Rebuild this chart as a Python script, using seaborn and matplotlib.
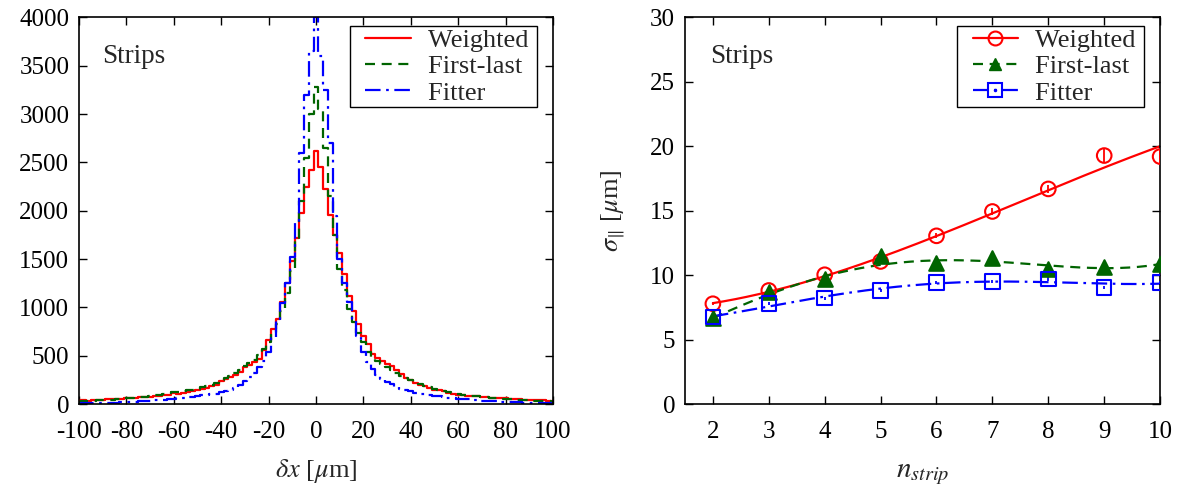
import numpy as np
import pandas as pd
import matplotlib
matplotlib.use("Agg")
import matplotlib.pyplot as plt
import seaborn as sns
from matplotlib.lines import Line2D
from matplotlib.legend_handler import HandlerTuple, HandlerLine2D

# ---------------- data ----------------
series_names = ["Weighted", "First-last", "Fitter"]

# left panel: residual histogram, 2 um bins centred at -100 ... 100
dx_centers = list(range(-100, 101, 2))
counts_weighted = [
    42, 38, 35, 40, 44, 41, 47, 50, 48, 55,
    60, 58, 64, 70, 68, 75, 80, 86, 92, 98,
    110, 108, 118, 126, 135, 142, 155, 170, 182, 200,
    240, 255, 275, 300, 335, 385, 405, 430, 470, 560,
    660, 780, 880, 1060, 1250, 1480, 1720, 1980, 2250, 2420,
    2620,
    2450, 2220, 1960, 1750, 1560, 1350, 1120, 960, 830, 700,
    620, 520, 480, 440, 410, 390, 350, 310, 270, 245,
    220, 200, 185, 170, 150, 140, 130, 118, 105, 95,
    92, 85, 82, 78, 72, 70, 66, 62, 60, 58,
    55, 52, 50, 46, 45, 42, 40, 38, 36, 35,
]
counts_firstlast = [
    25, 30, 33, 30, 38, 40, 44, 42, 50, 56,
    62, 60, 68, 75, 72, 82, 90, 95, 102, 110,
    120, 125, 130, 140, 150, 160, 172, 185, 200, 220,
    250, 265, 290, 320, 350, 395, 420, 460, 510, 570,
    640, 720, 830, 960, 1150, 1380, 1700, 2100, 2550, 3000,
    3280,
    3050, 2650, 2150, 1750, 1400, 1180, 980, 850, 730, 640,
    540, 480, 440, 410, 380, 350, 320, 290, 265, 250,
    225, 205, 190, 175, 160, 145, 135, 125, 115, 105,
    95, 90, 84, 78, 74, 70, 66, 62, 58, 55,
    52, 48, 45, 42, 40, 36, 33, 30, 28, 25,
]
counts_fitter = [
    5, 6, 8, 7, 9, 10, 12, 14, 15, 18,
    20, 22, 25, 28, 30, 34, 38, 42, 46, 50,
    55, 60, 64, 70, 75, 80, 88, 95, 100, 108,
    120, 135, 150, 170, 195, 240, 275, 320, 380, 440,
    540, 680, 870, 1040, 1250, 1520, 1870, 2600, 3200, 3650,
    4000,
    3600, 3250, 2700, 1950, 1500, 1250, 1060, 880, 700, 540,
    430, 360, 300, 260, 230, 205, 180, 160, 145, 130,
    118, 108, 100, 92, 85, 78, 72, 66, 60, 56,
    52, 48, 44, 40, 36, 33, 30, 27, 24, 22,
    20, 18, 16, 14, 12, 10, 9, 8, 6, 5,
]

# right panel: resolution vs strip multiplicity (points with error bars)
n_strip = [2, 3, 4, 5, 6, 7, 8, 9, 10]
sigma_weighted = [7.78, 8.81, 10.03, 11.06, 13.05, 14.94, 16.69, 19.28, 19.20]
sigma_firstlast = [6.65, 8.70, 9.70, 11.45, 10.98, 11.30, 10.50, 10.65, 10.85]
sigma_fitter = [6.75, 7.80, 8.22, 8.81, 9.43, 9.49, 9.70, 9.05, 9.43]
err_weighted = [0.10, 0.12, 0.12, 0.15, 0.20, 0.25, 0.30, 0.60, 0.60]
err_firstlast = [0.10, 0.15, 0.12, 0.25, 0.20, 0.25, 0.25, 0.25, 0.25]
err_fitter = [0.10, 0.12, 0.12, 0.12, 0.12, 0.12, 0.12, 0.12, 0.12]
fit_orders = [3, 4, 4]

x_ticks_left = list(range(-100, 101, 20))
y_ticks_left = list(range(0, 4001, 500))
x_ticks_right = list(range(2, 11))
y_ticks_right = list(range(0, 31, 5))

# ---------------- style ----------------
sns.set_theme(style="ticks")
plt.rcParams['font.family'] = ['Liberation Serif', 'DejaVu Serif']
plt.rcParams['mathtext.fontset'] = 'stix'
plt.rcParams['axes.unicode_minus'] = False

RED = '#ff0000'
GREEN = '#006400'
BLUE = '#0000ff'
FS = 18
LFS = 19
LS_SOLID = '-'
LS_DASH = (0, (4.5, 3.0))
LS_DASHDOT = (0, (7.0, 2.5, 1.2, 2.5))


class InsetLineHandler(HandlerLine2D):
    """Legend line handler that leaves a blank margin on the left."""
    def __init__(self, inset_px=13, **kw):
        super().__init__(**kw)
        self.inset_px = inset_px

    def create_artists(self, legend, orig_handle, xdescent, ydescent,
                       width, height, fontsize, trans):
        ins = self.inset_px * 72.0 / legend.figure.dpi
        return super().create_artists(legend, orig_handle, xdescent - ins,
                                      ydescent, width - ins, height,
                                      fontsize, trans)


fig = plt.figure(figsize=(11.85, 4.9), dpi=100)
ax1 = fig.add_axes([0.0667, 0.1755, 0.400, 0.789])
ax2 = fig.add_axes([0.578, 0.1755, 0.401, 0.789])

# ---------------- left panel ----------------
hist_sets = [
    (counts_weighted, RED, LS_SOLID),
    (counts_firstlast, GREEN, LS_DASH),
    (counts_fitter, BLUE, LS_DASHDOT),
]
for vals, col, ls in hist_sets:
    df = pd.DataFrame({"dx": dx_centers, "n": vals})
    sns.lineplot(data=df, x="dx", y="n", ax=ax1, color=col, lw=1.6,
                 linestyle=ls, drawstyle='steps-mid', legend=False)

ax1.set_xlim(-100, 100)
ax1.set_ylim(0, 4000)
ax1.set_xticks(x_ticks_left)
ax1.set_yticks(y_ticks_left)
ax1.set_xlabel(r'$\delta x$ [$\mu$m]', fontsize=FS + 1, labelpad=10)
ax1.set_ylabel('')
ax1.text(0.049, 0.90, 'Strips', transform=ax1.transAxes, fontsize=19.5,
         va='center', ha='left')

leg_labels = [n + ' ' for n in series_names]
hmap = {Line2D: InsetLineHandler(inset_px=13),
        tuple: HandlerTuple(ndivide=1)}
leg_kw = dict(loc='upper right', bbox_to_anchor=(0.966, 0.977),
              borderaxespad=0, fontsize=LFS, frameon=True, fancybox=False,
              framealpha=1, edgecolor='black', handlelength=2.2,
              handletextpad=0.65, labelspacing=0.11, borderpad=0.08,
              numpoints=1, handler_map=hmap)

h_left = [Line2D([], [], color=c, lw=1.6, linestyle=l) for _, c, l in hist_sets]
leg1 = ax1.legend(h_left, leg_labels, **leg_kw)
leg1.get_frame().set_linewidth(1.0)

# ---------------- right panel ----------------
pt_sets = [
    (sigma_weighted, err_weighted, RED, LS_SOLID, 'o', 'none'),
    (sigma_firstlast, err_firstlast, GREEN, LS_DASH, '^', GREEN),
    (sigma_fitter, err_fitter, BLUE, LS_DASHDOT, 's', 'none'),
]
n_fine = np.linspace(min(n_strip), max(n_strip), 200)
for (vals, errs, col, ls, mk, fc), order in zip(pt_sets, fit_orders):
    coef = np.polyfit(n_strip, vals, order, w=1.0 / np.asarray(errs))
    sns.lineplot(x=n_fine, y=np.polyval(coef, n_fine), ax=ax2, color=col,
                 lw=1.6, linestyle=ls, legend=False)
    ax2.errorbar(n_strip, vals, yerr=errs, fmt='none', ecolor=col,
                 elinewidth=1.3, capsize=0, zorder=4)
    sns.scatterplot(x=n_strip, y=vals, ax=ax2, marker=mk, s=110,
                    color=fc, edgecolor=col, linewidth=1.5, legend=False,
                    zorder=5)

ax2.set_xlim(1.5, 10)
ax2.set_ylim(0, 30)
ax2.set_xticks(x_ticks_right)
ax2.set_yticks(y_ticks_right)
ax2.set_xlabel(r'$n_{strip}$', fontsize=FS + 3, labelpad=13)
ax2.set_ylabel(r'$\sigma_{\|}$ [$\mu$m]', fontsize=FS + 1, labelpad=16)
ax2.text(0.053, 0.90, 'Strips', transform=ax2.transAxes, fontsize=19.5,
         va='center', ha='left')

h_w = Line2D([], [], color=RED, lw=1.6, linestyle=LS_SOLID, marker='o',
             ms=10, mfc='none', mec=RED, mew=1.5)
h_f = Line2D([], [], color=GREEN, lw=1.6, linestyle=LS_DASH, marker='^',
             ms=9, mfc=GREEN, mec=GREEN)
h_b = Line2D([], [], color=BLUE, lw=1.6, linestyle=LS_DASHDOT, marker='s',
             ms=10, mfc='none', mec=BLUE, mew=1.5)
h_dot = Line2D([], [], color=BLUE, linestyle='none', marker='.', ms=3)
leg2 = ax2.legend([h_w, h_f, (h_b, h_dot)], leg_labels, **leg_kw)
leg2.get_frame().set_linewidth(1.0)

for ax in (ax1, ax2):
    ax.tick_params(direction='in', length=6, width=1.0, top=True, right=True,
                   labelsize=FS, colors='black')
    ax.tick_params(axis='x', pad=12)
    ax.tick_params(axis='y', pad=7)
    for sp in ax.spines.values():
        sp.set_visible(True)
        sp.set_linewidth(1.2)
        sp.set_color('black')
    ax.set_facecolor('white')

fig.savefig('out.png', dpi=100, facecolor='white')
